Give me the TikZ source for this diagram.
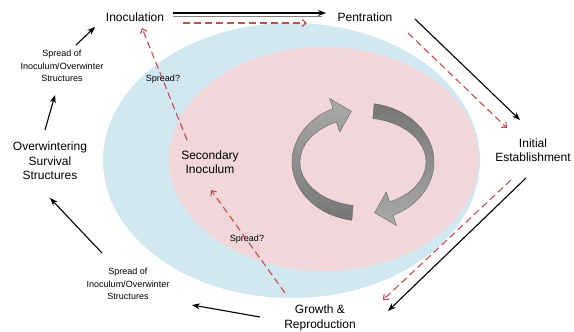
\documentclass[tikz,border=0pt]{standalone}
\usepackage{fontspec}
\setmainfont{Liberation Sans}
\usetikzlibrary{arrows.meta,calc}

\definecolor{outerblue}{RGB}{209,232,241}
\definecolor{innerpink}{RGB}{241,214,218}
\definecolor{dashred}{RGB}{192,80,77}
\definecolor{arrowlight}{RGB}{170,170,170}
\definecolor{arrowdark}{RGB}{118,118,118}

\begin{document}
\begin{tikzpicture}[x=1pt, y=-1pt, >=Stealth,
	every node/.style={font=\fontsize{12}{14.5}\selectfont, align=center},
	smalltxt/.style={font=\fontsize{9}{12.5}\selectfont},
	blk/.style={line width=1.1pt, ->},
	reddash/.style={dashred, line width=1.1pt, dash pattern=on 7pt off 4pt,
		-{Straight Barb[length=4pt,width=7pt]}}]
	
	% frame
	\useasboundingbox (0,0) rectangle (574,332);
	
	% parameters
	\def\cx{363}   % centre of the ribbon arrows
	\def\cy{162}
	
	% ellipses
	\fill[outerblue] (291.5,160.5) ellipse (188.5 and 137.5);
	\fill[innerpink] (324,159) ellipse (155 and 112);
	
	% stage labels
	\node (inoc) at (135,17) {Inoculation};
	\node (pent) at (365,17) {Pentration};
	\node (init) at (533,150) {Initial\\Establishment};
	\node (grow) at (320,318) {Growth \&\\Reproduction};
	\node[smalltxt] (spreadlow) at (128,284) {Spread of\\Inoculum/Overwinter\\Structures};
	\node (overw) at (50,161) {Overwintering\\Survival\\Structures};
	\node[smalltxt] (spreadup) at (62,66) {Spread of\\Inoculum/Overwinter\\Structures};
	\node (second) at (210,162) {Secondary\\Inoculum};
	\node[smalltxt] (askup) at (163,79) {Spread?};
	\node[smalltxt] (asklow) at (247,239) {Spread?};
	
	% arrow ends
	\coordinate (a1) at (173,13);   \coordinate (a2) at (326,13);
	\coordinate (r1) at (183,23);   \coordinate (r2) at (307,23);
	\coordinate (b1) at (415,19);   \coordinate (b2) at (520,120);
	\coordinate (s1) at (408,33);   \coordinate (s2) at (507,128);
	\coordinate (c1) at (526,178);  \coordinate (c2) at (388,311);
	\coordinate (t1) at (511,180);  \coordinate (t2) at (383,300);
	\coordinate (d1) at (260,317);  \coordinate (d2) at (192,305);
	\coordinate (e1) at (102,253);  \coordinate (e2) at (50,198);
	\coordinate (f1) at (45,130);   \coordinate (f2) at (55,95);
	\coordinate (g1) at (76,45);    \coordinate (g2) at (95,27);
	\coordinate (u1) at (187,140);  \coordinate (u2) at (142,28);
	\coordinate (v1) at (285,293);  \coordinate (v2) at (211,190);
	
	% black cycle
	\draw[gray, line width=0.5pt] ($(a1)+(0,3.5)$) -- ($(a2)+(-4,3.5)$);
	\draw[blk] (a1) -- (a2);
	\draw[blk] (b1) -- (b2);
	\draw[blk] (c1) -- (c2);
	\draw[blk] (d1) -- (d2);
	\draw[blk] (e1) -- (e2);
	\draw[blk] (f1) -- (f2);
	\draw[blk] (g1) -- (g2);
	
	% red dashed cycle
	\draw[reddash] (r1) -- (r2);
	\draw[reddash] (s1) -- (s2);
	\draw[reddash] (t1) -- (t2);
	\draw[reddash] (u1) -- (u2);
	\draw[reddash] (v1) -- (v2);
	
	% ribbon arrows
	\path[top color=arrowlight, bottom color=arrowdark, draw=gray!70!black, line width=0.3pt]
	plot[domain=99:245, variable=\t, samples=40] ({\cx+71*cos(\t)},{\cy+59*sin(\t)})
	-- ({\cx+79*cos(245)},{\cy+70*sin(245)}) -- ({\cx+67*cos(260)},{\cy+51.5*sin(260)})
	-- ({\cx+55*cos(245)},{\cy+33*sin(245)})
	-- plot[domain=245:99, variable=\t, samples=40] ({\cx+63*cos(\t)},{\cy+44*sin(\t)}) -- cycle;
	\path[top color=arrowdark, bottom color=arrowlight, draw=gray!70!black, line width=0.3pt]
	plot[domain=279:425, variable=\t, samples=40] ({\cx+71*cos(\t)},{\cy+59*sin(\t)})
	-- ({\cx+79*cos(425)},{\cy+70*sin(425)}) -- ({\cx+67*cos(440)},{\cy+51.5*sin(440)})
	-- ({\cx+55*cos(425)},{\cy+33*sin(425)})
	-- plot[domain=425:279, variable=\t, samples=40] ({\cx+63*cos(\t)},{\cy+44*sin(\t)}) -- cycle;
\end{tikzpicture}
\end{document}
